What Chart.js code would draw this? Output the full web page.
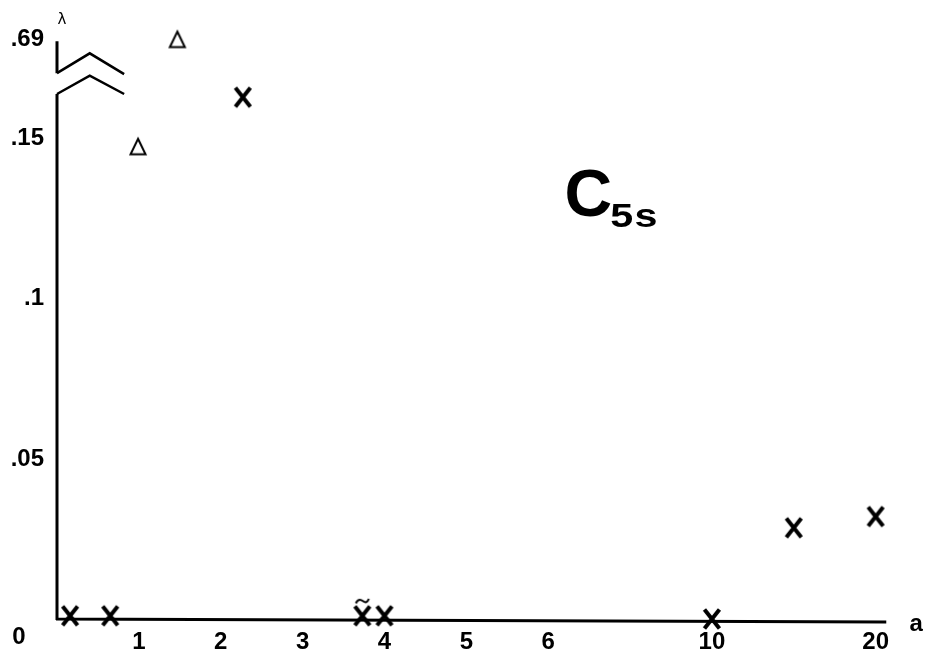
<!DOCTYPE html>
<html lang="en">
<head>
<meta charset="UTF-8">
<title>C5s</title>
<script src="https://cdn.jsdelivr.net/npm/chart.js"></script>
<style>
  html, body { margin: 0; padding: 0; background: #fff; }
  #wrap { width: 929px; height: 663px; }
</style>
</head>
<body>
<div id="wrap"><canvas id="chart" width="929" height="663"></canvas></div>
<script>
// values (a on x, lambda on y)
const crossA      = [0.16, 0.65, 3.73, 4.0, 10, 15, 20, 2.27];
const crossLambda = [0.001, 0.001, 0.001, 0.001, 0.0, 0.0285, 0.032, 0.163];
const crossTilde  = [false, false, true, false, false, false, false, false];
const deltaA      = [0.99, 1.47];
const deltaLambda = [0.1475, 0.69];

const xTickValues = [1, 2, 3, 4, 5, 6, 10, 20];
const xTickLabels = ['1', '2', '3', '4', '5', '6', '10', '20'];
const yTickValues = [0.05, 0.1, 0.15, 0.69];
const yTickLabels = ['.05', '.1', '.15', '.69'];

// the a axis is stretched up to 6, then squeezed; lambda axis is broken above .15
function aPos(a) {
    if (a <= 6) return a;
    if (a <= 10) return 6 + (a - 6) / 2;
    return 8 + (a - 10) / 5;
}
function lamPos(v) {
    if (v < 0.5) return v;
    return 0.181 + (v - 0.69) * 0.05;
}

// marker images: bold X (optionally with tilde) and open delta
function crossMark(tilde) {
    const c = document.createElement('canvas');
    c.width = 24; c.height = tilde ? 52 : 26;
    const g = c.getContext('2d');
    const cx = c.width / 2, cy = c.height / 2;
    g.strokeStyle = '#000';
    g.lineWidth = 4;
    g.lineCap = 'butt';
    g.beginPath();
    g.moveTo(cx - 7.5, cy - 9.5); g.lineTo(cx + 7.5, cy + 9.5);
    g.moveTo(cx + 7.5, cy - 9.5); g.lineTo(cx - 7.5, cy + 9.5);
    g.stroke();
    if (tilde) {
        g.lineWidth = 2;
        g.beginPath();
        g.moveTo(cx - 6.5, cy - 12.5);
        g.bezierCurveTo(cx - 4, cy - 18, cx - 1, cy - 16, cx + 1, cy - 14.5);
        g.bezierCurveTo(cx + 3, cy - 13, cx + 5, cy - 13, cx + 6.5, cy - 17);
        g.stroke();
    }
    return c;
}
function deltaMark() {
    const c = document.createElement('canvas');
    c.width = 22; c.height = 22;
    const g = c.getContext('2d');
    g.strokeStyle = '#000';
    g.lineWidth = 2;
    g.lineJoin = 'miter';
    g.beginPath();
    g.moveTo(11, 3);
    g.lineTo(18.5, 18.5);
    g.lineTo(3.5, 18.5);
    g.closePath();
    g.stroke();
    return c;
}

const xImg = crossMark(false);
const xTildeImg = crossMark(true);
const deltaImg = deltaMark();

const decor = {
    id: 'decor',
    beforeDatasetsDraw(chart) {
        const ctx = chart.ctx;
        const x = chart.scales.x, y = chart.scales.y;
        const x0 = x.getPixelForValue(0);
        const y0 = y.getPixelForValue(0);
        ctx.save();
        ctx.strokeStyle = '#000';
        ctx.lineWidth = 3;
        ctx.beginPath();
        ctx.moveTo(x0, y0 + 1);
        ctx.lineTo(x0, y.getPixelForValue(0.164));
        ctx.moveTo(x0, y.getPixelForValue(0.1705));
        ctx.lineTo(x0, y.getPixelForValue(0.1805));
        ctx.moveTo(x0 - 1, y0);
        ctx.lineTo(x.getPixelForValue(10.13), y0 + 3);
        ctx.stroke();
        // axis break
        ctx.lineWidth = 2.5;
        ctx.beginPath();
        ctx.moveTo(x0, y.getPixelForValue(0.164));
        ctx.lineTo(x.getPixelForValue(0.4), y.getPixelForValue(0.1697));
        ctx.lineTo(x.getPixelForValue(0.82), y.getPixelForValue(0.164));
        ctx.moveTo(x0, y.getPixelForValue(0.1705));
        ctx.lineTo(x.getPixelForValue(0.4), y.getPixelForValue(0.1767));
        ctx.lineTo(x.getPixelForValue(0.82), y.getPixelForValue(0.1702));
        ctx.stroke();

        ctx.fillStyle = '#000';
        ctx.textBaseline = 'middle';
        ctx.textAlign = 'center';
        ctx.font = 'bold 24px "Liberation Sans"';
        ctx.fillText('0', x0 - 38, y0 + 18);
        ctx.fillText('a', x.getPixelForValue(10.13) + 30, y0 + 5);
        ctx.font = '15px "DejaVu Sans"';
        ctx.fillText('\u03bb', x0 + 5, y.getPixelForValue(0.1805) - 21);

        // panel title C5s
        ctx.textAlign = 'left';
        ctx.textBaseline = 'alphabetic';
        const tx = x.getPixelForValue(6.2), ty = y.getPixelForValue(0.126);
        ctx.font = 'bold 66px "Liberation Sans"';
        ctx.fillText('C', tx, ty);
        const cw = ctx.measureText('C').width;
        ctx.save();
        ctx.translate(tx + cw - 2, ty + 11);
        ctx.scale(1.25, 1);
        ctx.font = 'bold 33px "Liberation Sans"';
        ctx.letterSpacing = '1px';
        ctx.fillText('5s', 0, 0);
        ctx.restore();
        ctx.restore();
    }
};

new Chart(document.getElementById('chart'), {
    type: 'scatter',
    data: {
        datasets: [{
            label: 'X',
            data: crossA.map((a, i) => ({ x: aPos(a), y: lamPos(crossLambda[i]) })),
            pointStyle: crossTilde.map(t => t ? xTildeImg : xImg),
            pointRadius: 10,
            pointHoverRadius: 10,
            clip: false
        }, {
            label: 'delta',
            data: deltaA.map((a, i) => ({ x: aPos(a), y: lamPos(deltaLambda[i]) })),
            pointStyle: deltaImg,
            pointRadius: 10,
            pointHoverRadius: 10,
            clip: false
        }]
    },
    options: {
        responsive: false,
        animation: false,
        layout: { padding: { top: 16, right: 37, left: 0, bottom: 0 } },
        plugins: {
            legend: { display: false },
            tooltip: { enabled: false }
        },
        scales: {
            x: {
                type: 'linear',
                min: 0,
                max: 10.2,
                afterBuildTicks: s => { s.ticks = xTickValues.map(v => ({ value: aPos(v) })); },
                afterFit: s => { s.height = 44; },
                grid: { display: false, drawTicks: false },
                border: { display: false },
                ticks: {
                    callback: (v, i) => xTickLabels[i],
                    color: '#000',
                    font: { family: 'Liberation Sans', size: 24, weight: 'bold' },
                    padding: 9,
                    maxRotation: 0,
                    autoSkip: false
                }
            },
            y: {
                type: 'linear',
                min: 0,
                max: 0.1848,
                afterBuildTicks: s => { s.ticks = yTickValues.map(v => ({ value: lamPos(v) })); },
                afterFit: s => { s.width = 57; },
                grid: { display: false, drawTicks: false },
                border: { display: false },
                ticks: {
                    callback: (v, i) => yTickLabels[i],
                    color: '#000',
                    font: { family: 'Liberation Sans', size: 24, weight: 'bold' },
                    padding: 13,
                    autoSkip: false
                }
            }
        }
    },
    plugins: [decor]
});
</script>
</body>
</html>
